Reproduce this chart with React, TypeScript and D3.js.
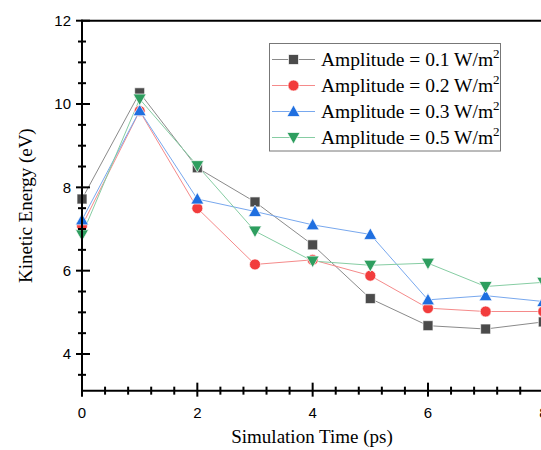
import React, { useEffect, useRef } from "react";
import * as d3 from "d3";

const times = [0, 1, 2, 3, 4, 5, 6, 7, 8];
const amp01 = [7.72, 10.27, 8.47, 7.65, 6.62, 5.33, 4.68, 4.6, 4.77];
const amp02 = [7.08, 9.83, 7.5, 6.15, 6.26, 5.88, 5.1, 5.02, 5.02];
const amp03 = [7.22, 9.84, 7.72, 7.42, 7.1, 6.87, 5.3, 5.4, 5.26];
const amp05 = [6.86, 10.12, 8.52, 6.95, 6.23, 6.13, 6.18, 5.62, 5.72];
const seriesLabels = ["Amplitude = 0.1 W/m", "Amplitude = 0.2 W/m", "Amplitude = 0.3 W/m", "Amplitude = 0.5 W/m"];
const xTicks = [0, 2, 4, 6, 8];
const yTicks = [4, 6, 8, 10, 12];

const W = 541;
const H = 450;

export default function App() {
  const ref = useRef<SVGSVGElement>(null);
  useEffect(() => {
    const svg = d3.select(ref.current);
    svg.selectAll("*").remove();
    const x = d3.scaleLinear().domain([0, 8]).range([82, 543.3]);
    const y = d3.scaleLinear().domain([4, 12]).range([354, 20.7]);
    const yMin = 3.12;
    const yBottom = y(yMin);

    const styles = [
      { data: amp01, fill: "#4b4b4b", line: "#8a8a8a", shape: "square" },
      { data: amp02, fill: "#f23c3c", line: "#f58a8a", shape: "circle" },
      { data: amp03, fill: "#1f6fe0", line: "#78a8ee", shape: "up" },
      { data: amp05, fill: "#2e9e5f", line: "#86cda3", shape: "down" },
    ];

    const drawMarker = (g: any, shape: string, cx: number, cy: number, fill: string) => {
      const stroke = "rgba(255,255,255,0.7)";
      if (shape === "square") {
        g.append("rect").attr("x", cx - 5).attr("y", cy - 5).attr("width", 10).attr("height", 10)
          .attr("fill", fill).attr("stroke", stroke).attr("stroke-width", 1);
      } else if (shape === "circle") {
        g.append("circle").attr("cx", cx).attr("cy", cy).attr("r", 5.5)
          .attr("fill", fill).attr("stroke", stroke).attr("stroke-width", 1);
      } else if (shape === "up") {
        g.append("path").attr("d", `M${cx},${cy - 6.5}L${cx + 6.5},${cy + 5}L${cx - 6.5},${cy + 5}Z`)
          .attr("fill", fill).attr("stroke", stroke).attr("stroke-width", 1);
      } else {
        g.append("path").attr("d", `M${cx},${cy + 6.5}L${cx + 6.5},${cy - 5}L${cx - 6.5},${cy - 5}Z`)
          .attr("fill", fill).attr("stroke", stroke).attr("stroke-width", 1);
      }
    };

    // series
    const line = d3.line<number>().x((_, i) => x(times[i])).y((d) => y(d));
    styles.forEach((s) => {
      svg.append("path").attr("d", line(s.data) as string).attr("fill", "none")
        .attr("stroke", s.line).attr("stroke-width", 1);
    });
    styles.forEach((s) => {
      const g = svg.append("g");
      s.data.forEach((v, i) => drawMarker(g, s.shape, x(times[i]), y(v), s.fill));
    });

    // axes
    const axisG = svg.append("g").attr("stroke", "#000").attr("stroke-width", 2);
    axisG.append("line").attr("x1", x(0)).attr("x2", x(0)).attr("y1", y(12) - 1).attr("y2", yBottom + 1);
    axisG.append("line").attr("x1", x(0) - 1).attr("x2", W).attr("y1", yBottom).attr("y2", yBottom);
    axisG.append("line").attr("x1", x(0) - 1).attr("x2", W).attr("y1", y(12)).attr("y2", y(12));

    // y ticks
    const yMinor = d3.range(3.5, 12, 0.5).filter((v) => v % 2 !== 0);
    yTicks.forEach((t) => {
      axisG.append("line").attr("x1", x(0) - 6).attr("x2", x(0) + 8).attr("y1", y(t)).attr("y2", y(t));
      svg.append("text").attr("x", 71).attr("y", y(t)).attr("dy", "0.36em").attr("text-anchor", "end")
        .attr("font-family", "Liberation Sans, Arial, sans-serif").attr("font-size", 15).text(t);
    });
    yMinor.forEach((t) => {
      axisG.append("line").attr("x1", x(0) - 4).attr("x2", x(0) + 4).attr("y1", y(t)).attr("y2", y(t));
    });
    // x ticks
    const xMinor = d3.range(0, 8.01, 0.4).filter((v) => Math.abs(v / 2 - Math.round(v / 2)) > 0.01);
    xTicks.forEach((t) => {
      axisG.append("line").attr("x1", x(t)).attr("x2", x(t)).attr("y1", yBottom - 8).attr("y2", yBottom + 6);
      svg.append("text").attr("x", x(t)).attr("y", 418).attr("text-anchor", "middle")
        .attr("font-family", "Liberation Sans, Arial, sans-serif").attr("font-size", 15).text(t);
    });
    xMinor.forEach((t) => {
      axisG.append("line").attr("x1", x(t)).attr("x2", x(t)).attr("y1", yBottom - 4).attr("y2", yBottom + 4);
    });

    // axis titles
    svg.append("text").attr("x", 312).attr("y", 443).attr("text-anchor", "middle")
      .attr("font-family", "Liberation Serif, Times New Roman, serif").attr("font-size", 19)
      .text("Simulation Time (ps)");
    svg.append("text").attr("transform", `translate(32,${(y(12) + yBottom) / 2}) rotate(-90)`)
      .attr("text-anchor", "middle")
      .attr("font-family", "Liberation Serif, Times New Roman, serif").attr("font-size", 19)
      .text("Kinetic Energy (eV)");

    // legend
    const lg = svg.append("g");
    lg.append("rect").attr("x", 269.5).attr("y", 43.5).attr("width", 231).attr("height", 107.5)
      .attr("fill", "#fff").attr("stroke", "#777").attr("stroke-width", 1);
    styles.forEach((s, i) => {
      const cy = 59.5 + i * 26;
      lg.append("line").attr("x1", 272).attr("x2", 315).attr("y1", cy).attr("y2", cy)
        .attr("stroke", s.line).attr("stroke-width", 1);
      drawMarker(lg, s.shape, 293.5, cy, s.fill);
      const t = lg.append("text").attr("x", 321).attr("y", cy + 6.5)
        .attr("font-family", "Liberation Serif, Times New Roman, serif").attr("font-size", 19.5);
      t.append("tspan").text(seriesLabels[i]);
      t.append("tspan").attr("dy", -8).attr("font-size", 13).text("2");
    });
  }, []);
  return (
    <svg ref={ref} width={W} height={H} style={{ position: "absolute", left: 0, top: 0, background: "#fff" }} />
  );
}
